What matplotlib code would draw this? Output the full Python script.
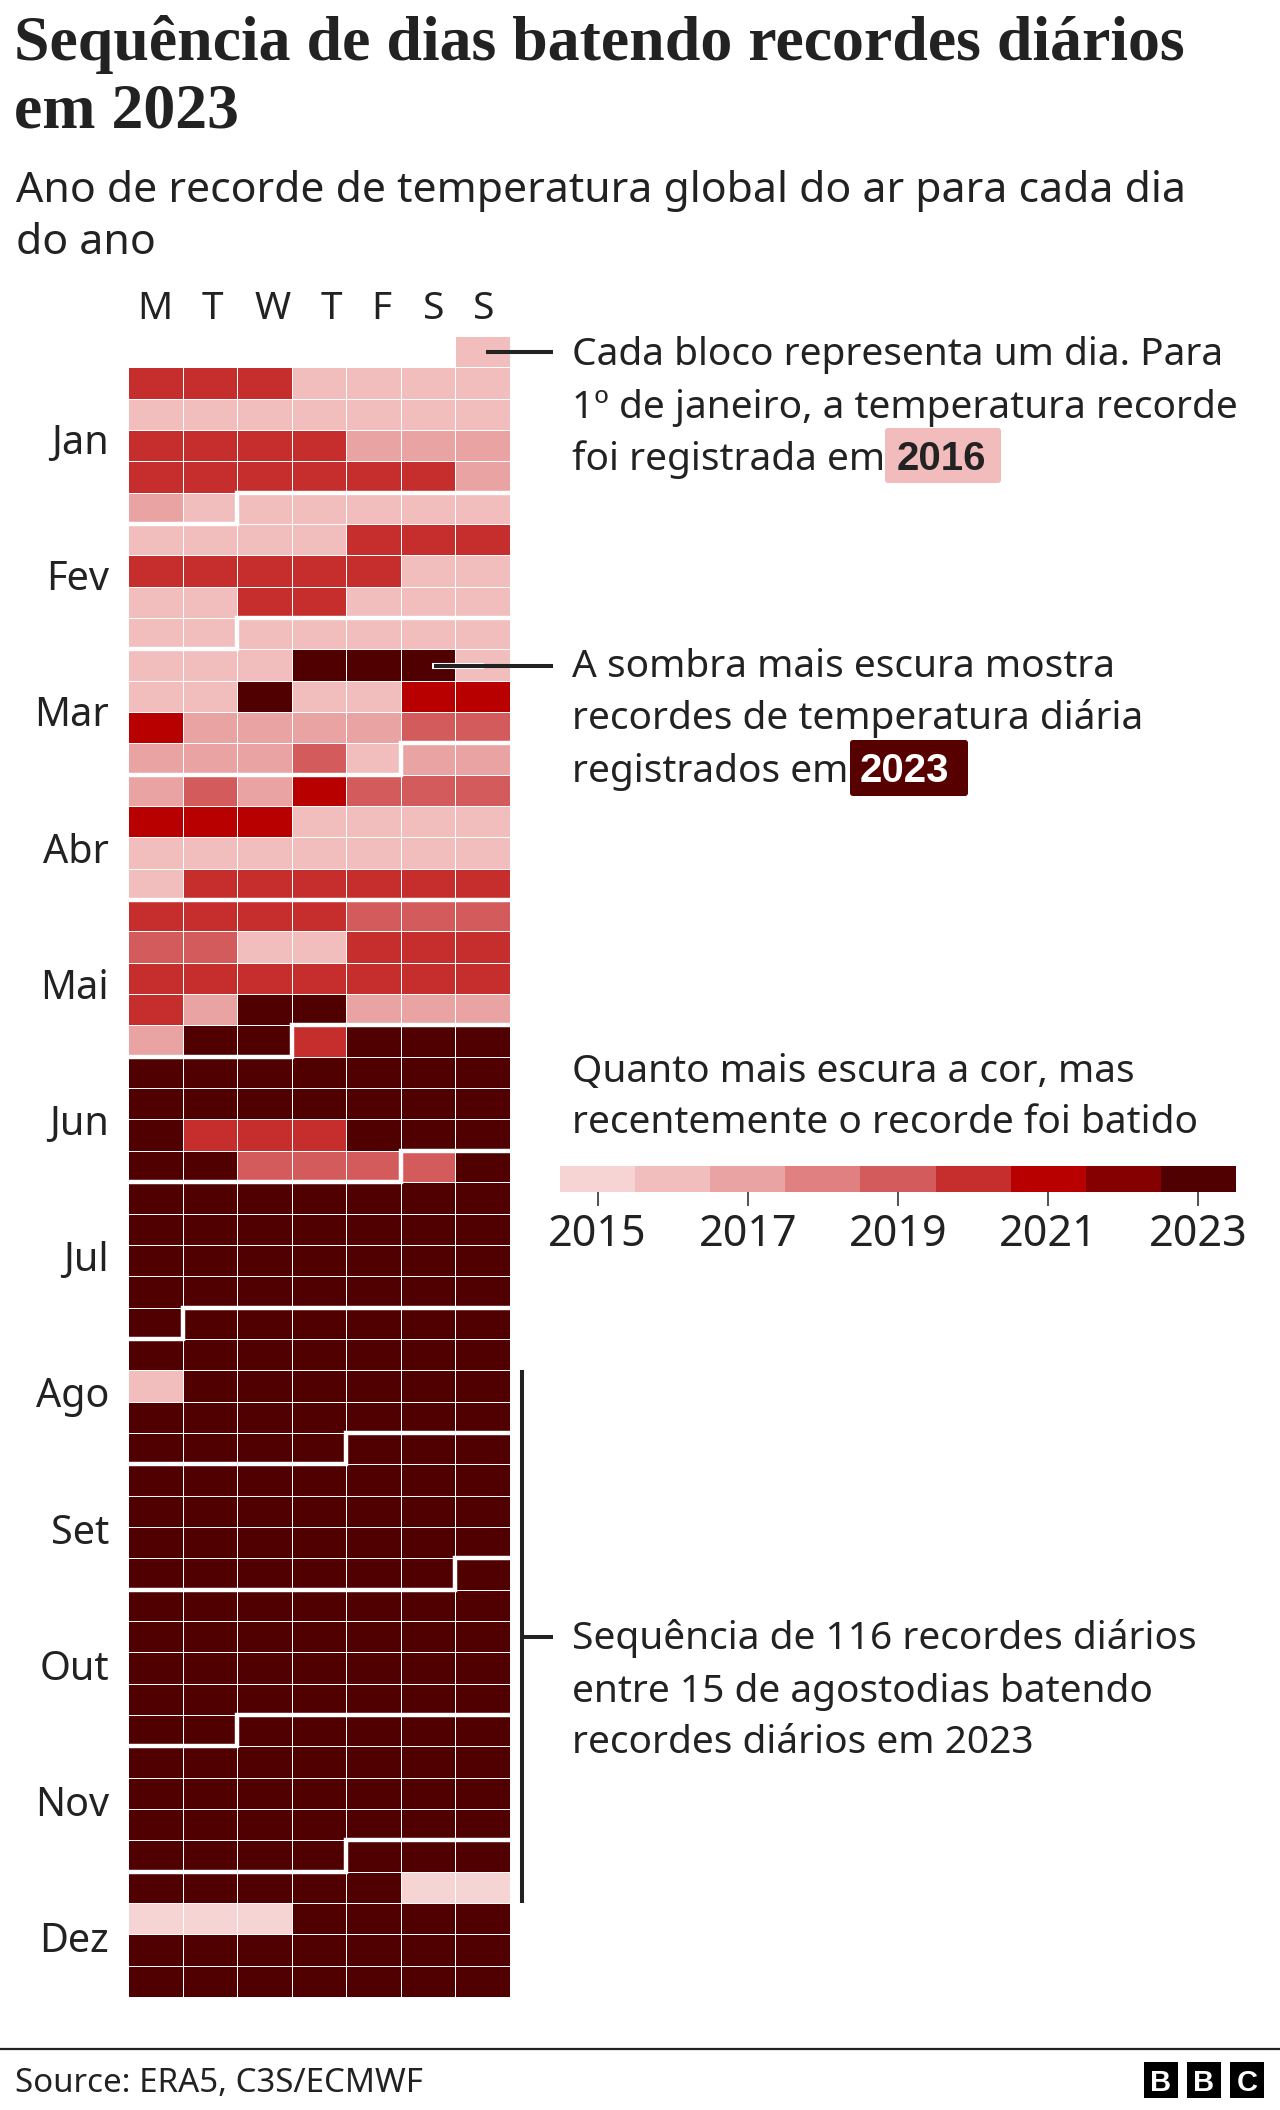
import matplotlib
matplotlib.use("Agg")
import matplotlib.pyplot as plt
import numpy as np
from matplotlib.colors import ListedColormap, BoundaryNorm
from matplotlib.patches import FancyBboxPatch, Rectangle

plt.rcParams["font.family"] = ["Noto Sans", "DejaVu Sans"]

# ---------------------------------------------------
# data
# ---------------------------------------------------
week_days = ["M", "T", "W", "T", "F", "S", "S"]
week_day_x = [155, 212, 273, 331, 381, 434, 484]
months = ["Jan", "Fev", "Mar", "Abr", "Mai", "Jun", "Jul", "Ago", "Set", "Out", "Nov", "Dez"]
month_lengths = [31, 28, 31, 30, 31, 30, 31, 31, 30, 31, 30, 31]
legend_years = [2015, 2016, 2017, 2018, 2019, 2020, 2021, 2022, 2023]
legend_ticks = [2015, 2017, 2019, 2021, 2023]
year_colors = ["#F7D4D4", "#F1BDBD", "#E9A3A3", "#E08080", "#D45B5B",
               "#C62E2E", "#B80000", "#850000", "#500000"]

# year of the record per week, Monday to Sunday (0 = not in 2023)
weeks_jan_apr = [
    [0, 0, 0, 0, 0, 0, 16],
    [20, 20, 20, 16, 16, 16, 16],
    [16, 16, 16, 16, 16, 16, 16],
    [20, 20, 20, 20, 17, 17, 17],
    [20, 20, 20, 20, 20, 20, 17],
    [17, 16, 16, 16, 16, 16, 16],
    [16, 16, 16, 16, 20, 20, 20],
    [20, 20, 20, 20, 20, 16, 16],
    [16, 16, 20, 20, 16, 16, 16],
    [16, 16, 16, 16, 16, 16, 16],
    [16, 16, 16, 23, 23, 23, 16],
    [16, 16, 23, 16, 16, 21, 21],
    [21, 17, 17, 17, 17, 19, 19],
    [17, 17, 17, 19, 16, 17, 17],
    [17, 19, 17, 21, 19, 19, 19],
    [21, 21, 21, 16, 16, 16, 16],
    [16, 16, 16, 16, 16, 16, 16],
    [16, 20, 20, 20, 20, 20, 20],
]
weeks_may_aug = [
    [20, 20, 20, 20, 19, 19, 19],
    [19, 19, 16, 16, 20, 20, 20],
    [20, 20, 20, 20, 20, 20, 20],
    [20, 17, 23, 23, 17, 17, 17],
    [17, 23, 23, 20, 23, 23, 23],
    [23, 23, 23, 23, 23, 23, 23],
    [23, 23, 23, 23, 23, 23, 23],
    [23, 20, 20, 20, 23, 23, 23],
    [23, 23, 19, 19, 19, 19, 23],
    [23, 23, 23, 23, 23, 23, 23],
    [23, 23, 23, 23, 23, 23, 23],
    [23, 23, 23, 23, 23, 23, 23],
    [23, 23, 23, 23, 23, 23, 23],
    [23, 23, 23, 23, 23, 23, 23],
    [23, 23, 23, 23, 23, 23, 23],
    [16, 23, 23, 23, 23, 23, 23],
    [23, 23, 23, 23, 23, 23, 23],
    [23, 23, 23, 23, 23, 23, 23],
]
weeks_sep_dec = [
    [23, 23, 23, 23, 23, 23, 23],
    [23, 23, 23, 23, 23, 23, 23],
    [23, 23, 23, 23, 23, 23, 23],
    [23, 23, 23, 23, 23, 23, 23],
    [23, 23, 23, 23, 23, 23, 23],
    [23, 23, 23, 23, 23, 23, 23],
    [23, 23, 23, 23, 23, 23, 23],
    [23, 23, 23, 23, 23, 23, 23],
    [23, 23, 23, 23, 23, 23, 23],
    [23, 23, 23, 23, 23, 23, 23],
    [23, 23, 23, 23, 23, 23, 23],
    [23, 23, 23, 23, 23, 23, 23],
    [23, 23, 23, 23, 23, 23, 23],
    [23, 23, 23, 23, 23, 15, 15],
    [15, 15, 15, 23, 23, 23, 23],
    [23, 23, 23, 23, 23, 23, 23],
    [23, 23, 23, 23, 23, 23, 23],
]

INK = "#222222"
W, H = 1280, 2110
GX0, GX1, GY0, GY1 = 128.3, 509.5, 336, 1997


def axes_px(x0, y0, x1, y1, **kw):
    # axes from pixel box, y measured from the top
    return fig.add_axes([x0 / W, 1 - y1 / H, (x1 - x0) / W, (y1 - y0) / H], **kw)


fig = plt.figure(figsize=(12.8, 21.1), dpi=100)

# ---------------------------------------------------
# calendar grid
# ---------------------------------------------------
cmap = ListedColormap(year_colors)
norm = BoundaryNorm(np.arange(2014.5, 2024.5), cmap.N)

weeks = np.array(weeks_jan_apr + weeks_may_aug + weeks_sep_dec, dtype=float)
years = np.ma.masked_where(weeks == 0, weeks + 2000)

ax = axes_px(GX0, GY0, GX1, GY1)
ax.pcolormesh(np.arange(8), np.arange(weeks.shape[0] + 1), years, cmap=cmap, norm=norm,
              edgecolors="white", linewidth=0.7)
ax.set_xlim(0, 7)
ax.set_ylim(weeks.shape[0], 0)
ax.axis("off")

# month borders
day = 0
for length in month_lengths[:-1]:
    day += length
    row, col = (day + 6) // 7, (day + 6) % 7
    if col == 0:
        xs, ys = [0, 7], [row, row]
    else:
        xs, ys = [0, col, col, 7], [row + 1, row + 1, row, row]
    ax.plot(xs, ys, color="white", lw=3.2, solid_joinstyle="miter",
            solid_capstyle="butt", clip_on=False)

# ---------------------------------------------------
# legend bar
# ---------------------------------------------------
lax = axes_px(560, 1166, 1236, 1192)
lax.pcolormesh(np.arange(2014.5, 2024.5), [0, 1], [legend_years], cmap=cmap, norm=norm)
lax.set_yticks([])
lax.set_xticks(legend_ticks)
lax.set_xticklabels([str(y) for y in legend_ticks], fontsize=31, color=INK)
lax.tick_params(axis="x", length=10, width=1.1, color=INK, pad=5)
for s in lax.spines.values():
    s.set_visible(False)

# ---------------------------------------------------
# text and leader lines, in pixels of the image
# ---------------------------------------------------
over = axes_px(0, 0, W, H)
over.set_xlim(0, W)
over.set_ylim(H, 0)
over.axis("off")
over.patch.set_alpha(0)


def put(x, y, s, size=28, **kw):
    kw.setdefault("color", INK)
    kw.setdefault("va", "baseline")
    return over.text(x, y, s, fontsize=size, **kw)


title_font = ["Liberation Serif", "DejaVu Serif"]
bold_font = ["Liberation Sans", "DejaVu Sans"]
put(14, 60, "Sequência de dias batendo recordes diários", 46, family=title_font, weight="bold")
put(14, 128, "em 2023", 46, family=title_font, weight="bold")
put(16, 202, "Ano de recorde de temperatura global do ar para cada dia", 30.8)
put(16, 254, "do ano", 30.8)

for x, s in zip(week_day_x, week_days):
    put(x, 319, s, ha="center")
for i, s in enumerate(months):
    put(109, 454 + i * 136.2, s, 28.5, ha="right")

put(572, 365, "Cada bloco representa um dia. Para")
put(572, 418, "1º de janeiro, a temperatura recorde")
put(572, 470, "foi registrada em")
over.add_patch(FancyBboxPatch((887, 430), 112, 51, boxstyle="round,pad=2,rounding_size=3",
                              fc="#F2BCBC", ec="none"))
put(941, 470, "2016", 29, family=bold_font, weight="bold", ha="center")

put(572, 677, "A sombra mais escura mostra")
put(572, 729, "recordes de temperatura diária")
put(572, 782, "registrados em")
over.add_patch(FancyBboxPatch((852, 742), 114, 52, boxstyle="round,pad=2,rounding_size=3",
                              fc="#560000", ec="none"))
put(904, 782, "2023", 29, family=bold_font, weight="bold", color="white", ha="center")

put(572, 1082, "Quanto mais escura a cor, mas")
put(572, 1133, "recentemente o recorde foi batido")

put(572, 1649, "Sequência de 116 recordes diários")
put(572, 1702, "entre 15 de agostodias batendo")
put(572, 1753, "recordes diários em 2023")

over.plot([486, 553], [352, 352], color=INK, lw=2.9, solid_capstyle="butt")
over.plot([432, 484], [666, 666], color="white", lw=4.4, solid_capstyle="butt")
over.plot([434, 553], [666, 666], color=INK, lw=2.9, solid_capstyle="butt")
over.plot([522, 522], [1370, 1903], color=INK, lw=2.9, solid_capstyle="butt")
over.plot([522, 553], [1637, 1637], color=INK, lw=2.9, solid_capstyle="butt")

# footer
over.plot([0, W], [2049, 2049], color=INK, lw=1.6)
put(15, 2092, "Source: ERA5, C3S/ECMWF", 23.8)
for x, s in zip([1144, 1187, 1230], "BBC"):
    over.add_patch(Rectangle((x, 2062), 34, 36, fc="black", ec="none"))
    put(x + 17, 2080, s, 21, family=bold_font, color="white", weight="bold",
        ha="center", va="center_baseline")

plt.savefig("out.png", dpi=100)
